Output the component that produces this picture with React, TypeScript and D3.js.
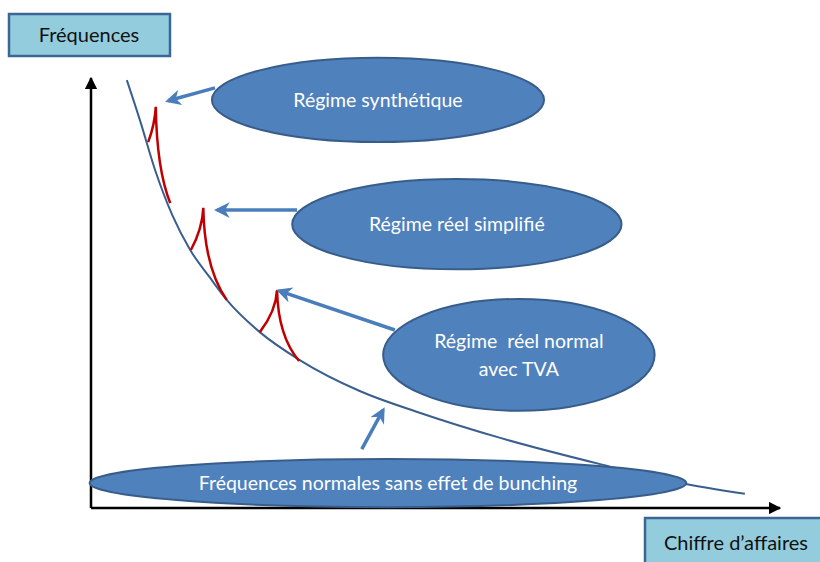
import React, { useEffect, useRef } from "react";
import * as d3 from "d3";

// decreasing "normal" frequency curve (x: turnover, y: frequency, 0-100)
const curveX = [5.2, 7.1, 9.3, 11.8, 14.4, 17.3, 19.7, 24.5, 30.3, 39.0, 47.8, 59.4, 73.9, 85.5, 94.9];
const curveY = [99.5, 90.2, 78.6, 68.1, 60.0, 53.5, 48.4, 40.9, 34.4, 27.2, 22.1, 16.3, 10.2, 5.8, 3.3];

// bunching spikes at each regime threshold
const spikeLeft = [[8.3, 85.1], [14.5, 60.0], [24.5, 40.9]];
const spikePeak = [[9.4, 93.3], [16.3, 69.8], [27.0, 50.7]];
const spikeRight = [[11.5, 70.9], [19.7, 48.4], [30.2, 34.2]];

// callouts
const calloutLines = [["Régime synthétique"], ["Régime réel simplifié"], ["Régime  réel normal", "avec TVA"], ["Fréquences normales sans effet de bunching"]];
const calloutCenter = [[41.65, 94.9], [53.1, 66.0], [62.1, 35.6], [43.1, 5.8]];
const calloutRadius = [[24.1, 9.8], [23.9, 10.5], [19.7, 13.0], [43.3, 5.6]];
const arrowFrom = [[18.0, 97.7], [29.9, 69.3], [44.1, 41.4], [39.3, 13.7]];
const arrowTo = [[11.2, 94.7], [18.3, 69.3], [27.3, 50.5], [42.4, 22.8]];

const yTitle = "Fréquences";
const xTitle = "Chiffre d’affaires";

const W = 820;
const H = 562;

export default function App() {
  const ref = useRef<SVGSVGElement>(null);

  useEffect(() => {
    const svg = d3.select(ref.current);
    svg.selectAll("*").remove();

    const x = d3.scaleLinear().domain([0, 100]).range([91, 780]);
    const y = d3.scaleLinear().domain([0, 100]).range([508, 78]);
    const font = "Lato, 'Open Sans', sans-serif";

    const defs = svg.append("defs");
    defs.append("marker")
      .attr("id", "blk").attr("viewBox", "0 0 10 10").attr("refX", 9).attr("refY", 5)
      .attr("markerWidth", 5).attr("markerHeight", 5).attr("orient", "auto")
      .append("path").attr("d", "M0,0 L10,5 L0,10 z").attr("fill", "#000");
    defs.append("marker")
      .attr("id", "blu").attr("viewBox", "0 0 10 10").attr("refX", 8).attr("refY", 5)
      .attr("markerWidth", 4.5).attr("markerHeight", 4.5).attr("orient", "auto")
      .append("path").attr("d", "M0,0 L10,5 L0,10 L3,5 z").attr("fill", "#4a7ebb");

    // axes
    svg.append("line")
      .attr("x1", x(0)).attr("y1", y(0)).attr("x2", x(0)).attr("y2", y(100))
      .attr("stroke", "#000").attr("stroke-width", 2.5).attr("marker-end", "url(#blk)");
    svg.append("line")
      .attr("x1", x(0)).attr("y1", y(0)).attr("x2", x(100)).attr("y2", y(0))
      .attr("stroke", "#000").attr("stroke-width", 2.5).attr("marker-end", "url(#blk)");

    // main curve
    const pts = curveX.map((v, i) => [v, curveY[i]] as [number, number]);
    const line = d3.line<[number, number]>().x(d => x(d[0])).y(d => y(d[1])).curve(d3.curveMonotoneX);
    svg.append("path").attr("d", line(pts)).attr("fill", "none")
      .attr("stroke", "#3a5f8f").attr("stroke-width", 2);

    // spikes
    spikePeak.forEach((p, i) => {
      const l = spikeLeft[i], r = spikeRight[i];
      const px = x(p[0]), py = y(p[1]);
      const lx = x(l[0]), ly = y(l[1]);
      const rx = x(r[0]), ry = y(r[1]);
      const path = d3.path();
      path.moveTo(lx, ly);
      path.quadraticCurveTo(px - 1, ly - (ly - py) * 0.5, px, py);
      path.quadraticCurveTo(px + 1, ry - (ry - py) * 0.35, rx, ry);
      svg.append("path").attr("d", path.toString()).attr("fill", "none")
        .attr("stroke", "#c00000").attr("stroke-width", 2.5).attr("stroke-linejoin", "miter");
    });

    // arrows
    arrowFrom.forEach((f, i) => {
      const t = arrowTo[i];
      svg.append("line")
        .attr("x1", x(f[0])).attr("y1", y(f[1])).attr("x2", x(t[0])).attr("y2", y(t[1]))
        .attr("stroke", "#4a7ebb").attr("stroke-width", 3.5).attr("marker-end", "url(#blu)");
    });

    // callout ellipses
    calloutCenter.forEach((c, i) => {
      const cx = x(c[0]), cy = y(c[1]);
      const rx = x(calloutRadius[i][0]) - x(0);
      const ry = y(0) - y(calloutRadius[i][1]);
      svg.append("ellipse").attr("cx", cx).attr("cy", cy).attr("rx", rx).attr("ry", ry)
        .attr("fill", "#4f81bd").attr("stroke", "#385d8a").attr("stroke-width", 2);
      const lines = calloutLines[i];
      const t = svg.append("text").attr("x", cx).attr("text-anchor", "middle")
        .attr("fill", "#fff").attr("font-family", font).attr("font-size", 19.5)
        .style("white-space", "pre");
      lines.forEach((s, k) => {
        t.append("tspan").attr("x", cx)
          .attr("y", cy + 7 + (k - (lines.length - 1) / 2) * 28)
          .text(s);
      });
    });

    // axis title boxes
    const box = (bx: number, by: number, bw: number, bh: number, label: string, tx: number) => {
      svg.append("rect").attr("x", bx).attr("y", by).attr("width", bw).attr("height", bh)
        .attr("fill", "#93cddd").attr("stroke", "#3c6696").attr("stroke-width", 2.5);
      svg.append("text").attr("x", tx).attr("y", by + bh / 2 + 7)
        .attr("text-anchor", "middle").attr("fill", "#111")
        .attr("font-family", font).attr("font-size", 20).text(label);
    };
    box(9, 14, 161, 42, yTitle, 89);
    box(645, 518, 190, 50, xTitle, 736);
  }, []);

  return (
    <svg ref={ref} width={W} height={H}
      style={{ position: "absolute", left: 0, top: 0, background: "#fff" }} />
  );
}
